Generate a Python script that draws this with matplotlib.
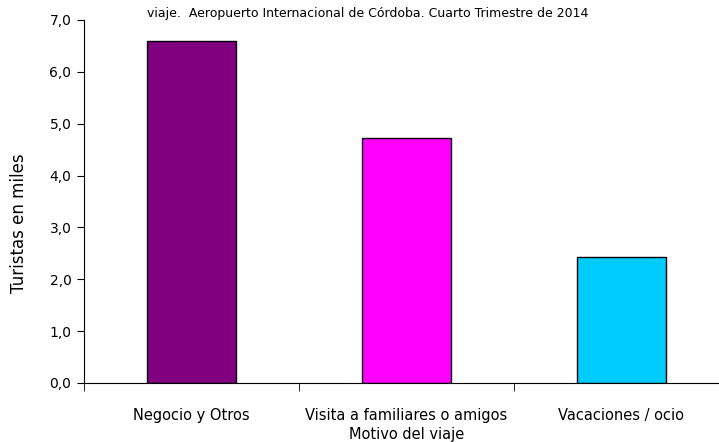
import matplotlib
matplotlib.use("Agg")
from matplotlib import pyplot as plt
from matplotlib.ticker import FixedLocator, FuncFormatter

categories = ["Negocio y Otros", "Visita a familiares o amigos", "Vacaciones / ocio"]
values = [6.6, 4.72, 2.42]
colors = ["#800080", "#FF00FF", "#00CCFF"]
y_ticks = [0, 1, 2, 3, 4, 5, 6, 7]

fig = plt.figure(figsize=(7.19, 4.42), dpi=100)
ax = fig.add_axes([0.1168, 0.1335, 0.897, 0.8213])

x = list(range(len(categories)))
ax.bar(x, values, width=0.41, color=colors, edgecolor="black", linewidth=1.0)

ax.set_xlim(-0.5, 2.5)
ax.set_ylim(0, 7)
ax.set_yticks(y_ticks)
ax.yaxis.set_major_formatter(FuncFormatter(lambda v, p: f"{v:.1f}".replace(".", ",")))
ax.tick_params(axis="y", direction="out", length=5, labelsize=10, pad=4)

ax.set_xticks(x)
ax.set_xticklabels(categories, fontsize=10.5)
ax.tick_params(axis="x", which="major", length=0, pad=18)
ax.xaxis.set_minor_locator(FixedLocator([-0.5, 0.5, 1.5]))
ax.tick_params(axis="x", which="minor", direction="out", length=6)

for s in ["top", "right"]:
    ax.spines[s].set_visible(False)

# y label sits a bit below the axis centre, as in the source chart
fig.text(19 / 719, 1 - 223 / 442, "Turistas en miles", rotation=90,
         ha="center", va="center", fontsize=12)
ax.set_xlabel("Motivo del viaje", fontsize=10.5, labelpad=3)

fig.text(0.512, 0.97, "viaje.  Aeropuerto Internacional de Córdoba. Cuarto Trimestre de 2014",
         ha="center", va="center", fontsize=9)

plt.savefig("out.png", dpi=100)
